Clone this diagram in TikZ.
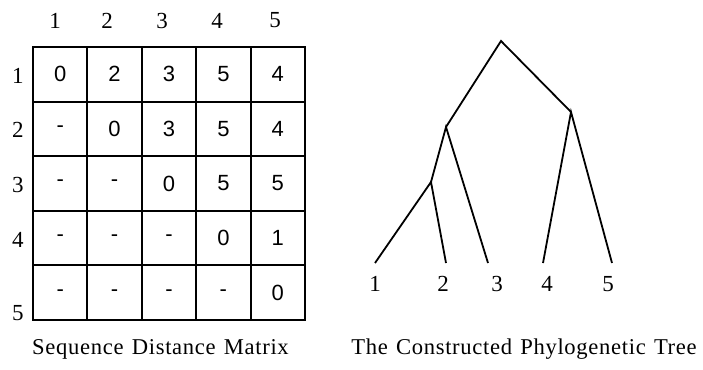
\documentclass[tikz,border=0pt]{standalone}
\usepackage{fontspec}
\setmainfont{Liberation Serif}
\newfontfamily\cellfont{Liberation Sans}
\newfontfamily\capfont[LetterSpace=3,WordSpace=1.3]{Liberation Serif}
\usetikzlibrary{positioning}

\tikzset{
  cell/.style={draw, line width=1.9pt, minimum width=54.4pt, minimum height=54.6pt, inner sep=0pt,
    font=\cellfont\fontsize{22}{26}\selectfont},
  idx/.style={inner sep=0pt, font=\fontsize{23}{27}\selectfont},
  caption/.style={anchor=base, inner sep=0pt, font=\capfont\fontsize{22.6}{27}\selectfont}
}

\begin{document}
\begin{tikzpicture}[x=1pt, y=-1pt, line width=1.8pt]
    \useasboundingbox (0,0) rectangle (703,369);

    % sequence numbers
    \node[idx] (h1) at (55, 20.5) {1};
    \node[idx] (h2) at (107, 20.5) {2};
    \node[idx] (h3) at (162, 20.5) {3};
    \node[idx] (h4) at (217, 20.5) {4};
    \node[idx] (h5) at (275, 20.5) {5};

    \node[idx] (r1) at (18, 76) {1};
    \node[idx] (r2) at (18, 130) {2};
    \node[idx] (r3) at (18, 185) {3};
    \node[idx] (r4) at (18, 240) {4};
    \node[idx] (r5) at (18, 313) {5};

    % distance matrix
    \foreach \v [count=\c] in {0,2,3,5,4}
        \node[cell] (m1\c) at ({5.8+54.4*\c}, 74.3) {\v};
    \foreach \v [count=\c] in {-,0,3,5,4}
        \node[cell] (m2\c) at ({5.8+54.4*\c}, 128.9) {\v};
    \foreach \v [count=\c] in {-,-,0,5,5}
        \node[cell] (m3\c) at ({5.8+54.4*\c}, 183.5) {\v};
    \foreach \v [count=\c] in {-,-,-,0,1}
        \node[cell] (m4\c) at ({5.8+54.4*\c}, 238.1) {\v};
    \foreach \v [count=\c] in {-,-,-,-,0}
        \node[cell] (m5\c) at ({5.8+54.4*\c}, 292.7) {\v};

    % tree
    \coordinate (root) at (501, 41);
    \coordinate (n123) at (446, 127);
    \coordinate (n12) at (431, 182);
    \coordinate (n45) at (571, 112);

    \coordinate (l1) at (375, 263);
    \coordinate (l2) at (446, 263);
    \coordinate (l3) at (488, 263);
    \coordinate (l4) at (543, 263);
    \coordinate (l5) at (612, 263);

    \draw (n123) -- (root) -- (n45);
    \draw (n12) -- (n123) -- (l3);
    \draw (l1) -- (n12) -- (l2);
    \draw (l4) -- (n45) -- (l5);

    \node[idx] (t1) at (375, 284) {1};
    \node[idx] (t2) at (443, 284) {2};
    \node[idx] (t3) at (497, 284) {3};
    \node[idx] (t4) at (547, 284) {4};
    \node[idx] (t5) at (608, 284) {5};

    \node[caption] (capm) at (160.5, 354) {Sequence Distance Matrix};
    \node[caption] (capt) at (524, 354) {The Constructed Phylogenetic Tree};
\end{tikzpicture}
\end{document}
